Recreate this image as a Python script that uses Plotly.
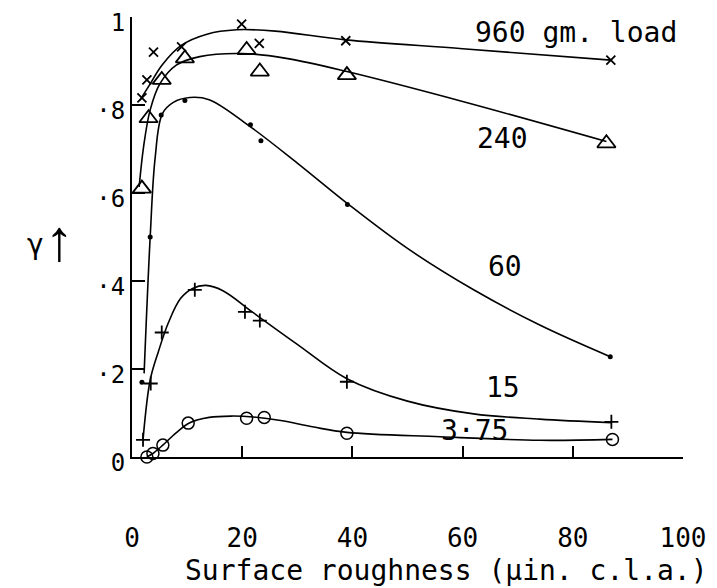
import plotly.graph_objects as go

# ---- data ----
# measured points (x: surface roughness, y: gamma)
x_960 = [1.8, 2.7, 3.9, 9.0, 19.9, 23.1, 38.8, 86.9]
y_960 = [0.816, 0.857, 0.920, 0.932, 0.984, 0.940, 0.946, 0.902]

x_240 = [1.8, 3.0, 5.4, 9.6, 20.8, 23.2, 39.0, 86.1]
y_240 = [0.610, 0.770, 0.857, 0.906, 0.925, 0.876, 0.868, 0.713]

x_60 = [1.8, 3.3, 5.3, 9.6, 21.5, 23.4, 39.1, 86.8]
y_60 = [0.170, 0.500, 0.777, 0.810, 0.755, 0.719, 0.574, 0.228]

x_15 = [2.0, 3.4, 5.4, 11.4, 20.5, 23.2, 39.0, 87.0]
y_15 = [0.039, 0.167, 0.283, 0.380, 0.330, 0.310, 0.171, 0.080]

x_375 = [2.7, 3.8, 5.6, 10.2, 20.8, 24.0, 39.0, 87.2]
y_375 = [0.000, 0.008, 0.027, 0.077, 0.088, 0.090, 0.054, 0.040]

# hand-drawn smooth curves
cx_960 = [1.45, 3.3, 5.4, 9.0, 13.6, 19.0, 26.0, 38.8, 60.0, 86.9]
cy_960 = [0.811, 0.848, 0.890, 0.936, 0.961, 0.971, 0.968, 0.948, 0.928, 0.902]

cx_240 = [1.3, 2.1, 3.3, 5.1, 8.1, 12.3, 20.0, 28.0, 39.0, 60.0, 86.1]
cy_240 = [0.614, 0.705, 0.789, 0.849, 0.891, 0.910, 0.917, 0.906, 0.876, 0.808, 0.717]

cx_60 = [2.2, 3.3, 4.2, 5.5, 7.5, 10.5, 14.0, 21.0, 30.0, 39.1, 50.0, 62.0, 74.0, 86.8]
cy_60 = [0.190, 0.500, 0.680, 0.780, 0.806, 0.817, 0.812, 0.755, 0.668, 0.576, 0.474, 0.380, 0.300, 0.228]

cx_15 = [2.0, 3.3, 4.8, 6.6, 8.8, 11.0, 13.4, 16.5, 22.0, 30.0, 39.0, 50.0, 62.0, 74.0, 87.0]
cy_15 = [0.039, 0.175, 0.240, 0.305, 0.360, 0.383, 0.390, 0.378, 0.328, 0.256, 0.178, 0.127, 0.098, 0.086, 0.078]

cx_375 = [2.7, 3.8, 5.6, 8.0, 10.5, 14.0, 18.0, 22.0, 27.0, 33.0, 39.0, 55.9, 74.0, 87.2]
cy_375 = [0.000, 0.008, 0.027, 0.055, 0.078, 0.090, 0.093, 0.091, 0.083, 0.068, 0.056, 0.046, 0.038, 0.040]

x_ticks = [0, 20, 40, 60, 80, 100]
x_tick_text = ["0", "20", "40", "60", "80", "100"]
y_ticks = [0, 0.2, 0.4, 0.6, 0.8, 1.0]
y_tick_text = ["0", "·2", "·4", "·6", "·8", "1"]

FONT = "DejaVu Sans Mono"
fig = go.Figure()

curves = [(cx_960, cy_960), (cx_240, cy_240), (cx_60, cy_60), (cx_15, cy_15), (cx_375, cy_375)]
for cx, cy in curves:
    fig.add_trace(go.Scatter(x=cx, y=cy, mode="lines",
                             line=dict(color="black", width=1.6, shape="spline", smoothing=1.0),
                             hoverinfo="skip", cliponaxis=False))

markers = [
    (x_960, y_960, "x-thin-open", 9, 1.8),
    (x_240, y_240, "triangle-up-open", 16, 1.8),
    (x_60, y_60, "circle", 5, 0),
    (x_15, y_15, "cross-thin-open", 10, 1.8),
    (x_375, y_375, "circle-open", 12, 1.5),
]
for mx, my, sym, size, lw in markers:
    fig.add_trace(go.Scatter(x=mx, y=my, mode="markers", cliponaxis=False,
                             marker=dict(symbol=sym, size=size, color="black",
                                         line=dict(color="black", width=lw))))

# the page body adds an 8px margin; size the figure so the plot lands where the reference has it
fig.update_layout(
    width=709, height=580,
    margin=dict(l=124, r=34, t=9, b=131, autoexpand=False),
    paper_bgcolor="white", plot_bgcolor="white",
    showlegend=False,
    font=dict(family=FONT, color="black", size=22),
    xaxis=dict(range=[0, 100], showgrid=False, zeroline=False, showline=True,
               linecolor="black", linewidth=2, ticks="inside", ticklen=11, tickwidth=2,
               tickcolor="black", tickvals=x_ticks, ticktext=x_tick_text, automargin=False,
               ticklabelstandoff=57, ticklabeloverflow="allow",
               tickfont=dict(family=FONT, size=26)),
    yaxis=dict(range=[0, 1], showgrid=False, zeroline=False, showline=True,
               linecolor="black", linewidth=2, ticks="inside", ticklen=13, tickwidth=2,
               tickcolor="black", tickvals=y_ticks, ticktext=y_tick_text, automargin=False,
               ticklabelstandoff=0, ticklabelshift=6, ticklabeloverflow="allow",
               tickfont=dict(family=FONT, size=24)),
)

labels = [
    ("960 gm. load", 80.6, 0.964),
    ("240", 67.2, 0.725),
    ("60", 67.7, 0.432),
    ("15", 67.3, 0.159),
    ("3·75", 62.1, 0.061),
]
for t, ax_, ay_ in labels:
    fig.add_annotation(x=ax_, y=ay_, text=t, showarrow=False, xanchor="center", yanchor="middle",
                       font=dict(family=FONT, size=28, color="black"))

fig.add_annotation(xref="paper", yref="paper", x=-0.176, y=0.484, text="γ",
                   xanchor="center", yanchor="middle",
                   showarrow=False, font=dict(family=FONT, size=28))
fig.add_annotation(xref="paper", yref="paper", x=-0.132, y=0.494, text="↑",
                   xanchor="center", yanchor="middle",
                   showarrow=False, font=dict(family="Liberation Sans", size=58))
fig.add_annotation(xref="paper", yref="paper", x=0.57, y=-0.257,
                   xanchor="center", yanchor="middle",
                   text="Surface roughness (µin. c.l.a.)",
                   showarrow=False, font=dict(family=FONT, size=28))

fig.write_html("out.html")
